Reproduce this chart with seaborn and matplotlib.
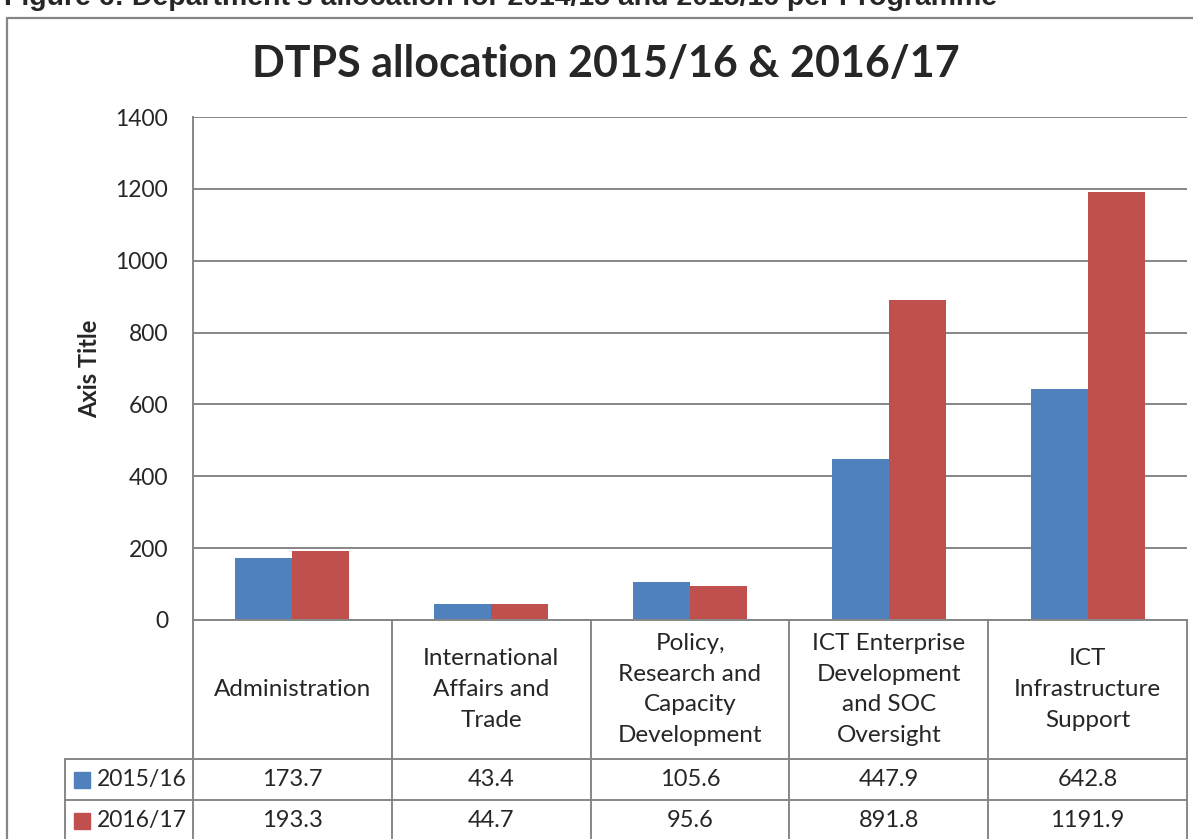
import matplotlib
matplotlib.use("Agg")
import matplotlib.pyplot as plt
import matplotlib.transforms as mtransforms
from matplotlib.patches import Rectangle
import seaborn as sns
import pandas as pd

programmes = [
    "Administration",
    "International\nAffairs and\nTrade",
    "Policy,\nResearch and\nCapacity\nDevelopment",
    "ICT Enterprise\nDevelopment\nand SOC\nOversight",
    "ICT\nInfrastructure\nSupport",
]
years = ["2015/16", "2016/17"]
alloc_2015 = [173.7, 43.4, 105.6, 447.9, 642.8]
alloc_2016 = [193.3, 44.7, 95.6, 891.8, 1191.9]
colors = ["#4F81BD", "#C0504D"]
y_ticks = [0, 200, 400, 600, 800, 1000, 1200, 1400]

sns.set_theme(style="white")
plt.rcParams["font.family"] = ["Lato", "DejaVu Sans"]

df = pd.DataFrame({
    "programme": programmes * 2,
    "year": [years[0]] * 5 + [years[1]] * 5,
    "value": alloc_2015 + alloc_2016,
})

W, H = 1193, 839
fig = plt.figure(figsize=(W / 100, H / 100), dpi=100)
ax = fig.add_axes([193 / W, 1 - 620 / H, (1187 - 193) / W, (620 - 117) / H])

sns.barplot(data=df, x="programme", y="value", hue="year", palette=colors,
            width=0.573, gap=0, dodge=True, saturation=1, ax=ax,
            legend=False, edgecolor="none", errorbar=None)

grid_c = "#868686"
ax.set_ylim(0, 1400)
ax.set_xlim(-0.5, 4.5)
ax.set_yticks(y_ticks)
ax.set_yticklabels([str(t) for t in y_ticks], fontsize=16.5)
ax.tick_params(axis="y", length=0, pad=18)
ax.set_xticks([])
ax.set_xlabel("")
ax.set_ylabel("Axis Title", fontsize=17, fontweight="bold", labelpad=10)
ax.yaxis.grid(True, color=grid_c, lw=1.4)
ax.set_axisbelow(True)
for s in ["top", "right"]:
    ax.spines[s].set_visible(False)
for s in ["left", "bottom"]:
    ax.spines[s].set_color(grid_c)
    ax.spines[s].set_linewidth(1.4)

# data table under the plot (x in categories, y in axes fraction)
tr = mtransforms.blended_transform_factory(ax.transData, ax.transAxes)
row_y = [0, -0.2763, -0.3579, -0.4394]
leg_left = -1.144
lkw = dict(color=grid_c, lw=1.4, transform=tr, clip_on=False)
for x in [-0.5, 0.5, 1.5, 2.5, 3.5, 4.5]:
    ax.plot([x, x], [0, row_y[-1]], **lkw)
ax.plot([leg_left, leg_left], [row_y[1], row_y[-1]], **lkw)
for y in row_y[1:]:
    ax.plot([leg_left, 4.5], [y, y], **lkw)

for i, lab in enumerate(programmes):
    ax.text(i, (row_y[0] + row_y[1]) / 2, lab, transform=tr, ha="center",
            va="center", fontsize=17.5, linespacing=1.58,
            multialignment="center")

for r, (yr, vals, c) in enumerate(zip(years, [alloc_2015, alloc_2016], colors)):
    yc = (row_y[r + 1] + row_y[r + 2]) / 2
    for i, v in enumerate(vals):
        ax.text(i, yc, f"{v:.1f}", transform=tr, ha="center", va="center",
                fontsize=17)
    ax.plot([-1.058], [yc], marker="s", ms=11.5, color=c, transform=tr,
            clip_on=False, lw=0)
    ax.text(-0.983, yc, yr, transform=tr, ha="left", va="center",
            fontsize=16.5)

fig.text(606 / W, 1 - 64 / H, "DTPS allocation 2015/16 & 2016/17",
         ha="center", va="center", fontsize=31, fontweight="bold")

# outer chart border
fig.add_artist(Rectangle((7 / W, -0.1), 1.2, 1 - 18 / H + 0.1,
                         transform=fig.transFigure, fill=False,
                         edgecolor=grid_c, lw=1.6))

# clipped caption above the chart
fig.text(4 / W, 1 - 5 / H,
         "Figure 6: Department's allocation for 2014/15 and 2015/16 per Programme",
         ha="left", va="baseline", fontsize=20.5, fontweight="bold",
         family=["Liberation Sans", "DejaVu Sans"])

fig.savefig("out.png", dpi=100)
